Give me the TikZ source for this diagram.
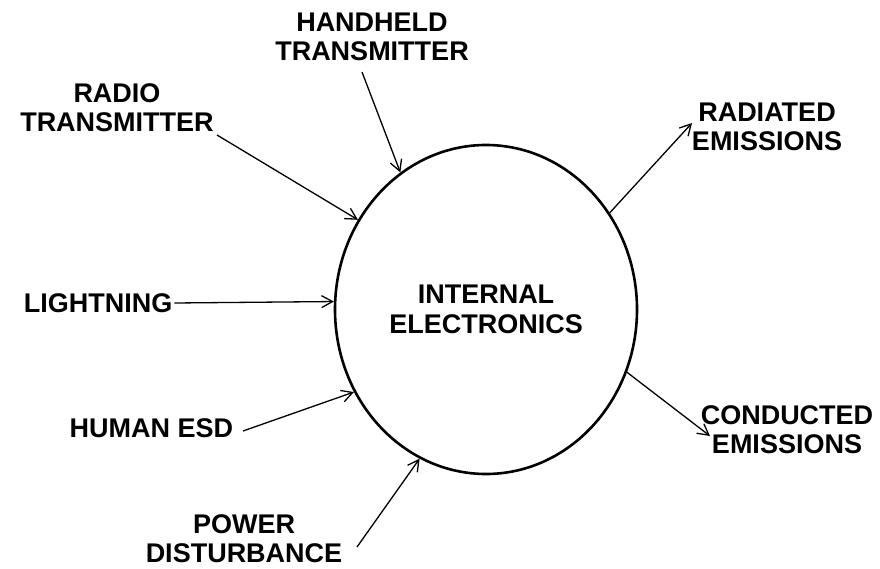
\documentclass[tikz,border=0pt]{standalone}
\usepackage{fontspec}
\setmainfont{Liberation Sans}
\usetikzlibrary{shapes.geometric,arrows.meta}
\begin{document}
\begin{tikzpicture}[x=1pt,y=-1pt,
  lbl/.style={font=\bfseries\fontsize{27}{29}\selectfont, align=center, inner sep=2pt},
  conn/.style={line width=1.3pt, -{Straight Barb[length=11pt,width=12pt,line width=1.3pt]}},
  core/.style={draw, ellipse, line width=2.6pt, minimum width=302pt, minimum height=329pt, inner sep=0pt, font=\bfseries\fontsize{27}{30}\selectfont, align=center}]
\useasboundingbox (0,0) rectangle (880,569);
\node[core] (ell) at (486,309.5) {INTERNAL\\ELECTRONICS};
\node[lbl] (hand) at (372,37) {HANDHELD\\TRANSMITTER};
\node[lbl] (radio) at (117,108) {RADIO\\TRANSMITTER};
\node[lbl] (light) at (98,303) {LIGHTNING};
\node[lbl] (human) at (151.5,428) {HUMAN ESD};
\node[lbl] (power) at (244,539) {POWER\\DISTURBANCE};
\node[lbl] (rad) at (767,127) {RADIATED\\EMISSIONS};
\node[lbl] (cond) at (787,430) {CONDUCTED\\EMISSIONS};
\coordinate (handS) at (362,72);
\coordinate (radioS) at (217,135);
\coordinate (humanS) at (243,431);
\coordinate (powerS) at (357,547);
\coordinate (radE) at (692,123);
\coordinate (condE) at (710,436);
\draw[conn] (handS) -- (ell.122.9);
\draw[conn] (radioS) -- (ell.145.8);
\draw[conn] (light.east) -- (ell.177.5);
\draw[conn] (humanS) -- (ell.212.1);
\draw[conn] (powerS) -- (ell.246.6);
\draw[conn] (ell.38.4) -- (radE);
\draw[conn] (ell.336.9) -- (condE);
\end{tikzpicture}
\end{document}
